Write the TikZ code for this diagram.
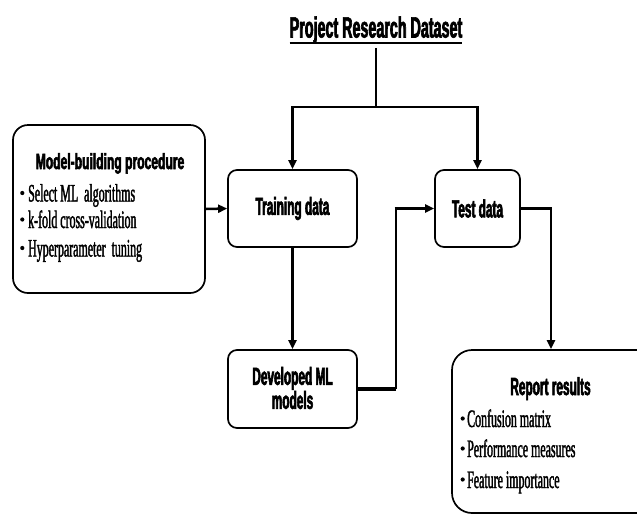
\documentclass[tikz,border=0pt]{standalone}
\usepackage{fontspec}
\setmainfont{Liberation Serif}
\newfontfamily\hfont[FakeStretch=0.48,FakeBold=2.4]{Liberation Sans}
\newfontfamily\mfont[FakeStretch=0.55,FakeBold=2.4]{Liberation Sans}
\newfontfamily\tfont[FakeStretch=0.49,FakeBold=2.2]{Liberation Sans}
\newfontfamily\sfont[FakeStretch=0.475,FakeBold=1.4]{Liberation Serif}
\usetikzlibrary{arrows.meta}
\tikzset{
  box/.style={draw, line width=1.7pt, rounded corners=9pt, inner sep=0pt},
  lbl/.style={font=\hfont\bfseries\fontsize{24.7}{21.5}\selectfont, align=center, inner sep=0pt},
  itm/.style={font=\sfont\fontsize{25.1}{24}\selectfont, anchor=base west, inner sep=0pt},
  bul/.style={circle, fill=black, inner sep=0pt, minimum size=4.2pt},
  conn/.style={line width=2.5pt, -{Triangle[length=9pt,width=8pt]}},
  thickconn/.style={line width=3.6pt},
}
\begin{document}
\begin{tikzpicture}[x=1pt,y=-1pt]
\useasboundingbox (0,0) rectangle (637,515);
% title
\node[lbl, font=\tfont\bfseries\fontsize{29.2}{26}\selectfont, anchor=base] (title) at (376,37.5) {Project Research Dataset};
\draw[line width=1.8pt] ([yshift=-5.5pt]title.base west) -- ([yshift=-5.5pt]title.base east);
% boxes
\node[box, rounded corners=15pt, minimum width=192pt, minimum height=168pt] (model) at (109,209) {};
\node[box, minimum width=129pt, minimum height=77pt] (train) at (292.5,208.5) {};
\node[lbl] (traint) at (train.center) {Training data};
\node[box, minimum width=85pt, minimum height=77pt] (test) at (477.5,208.5) {};
\node[lbl] (testt) at (test.center) {Test data};
\node[box, minimum width=129pt, minimum height=78pt] (dev) at (292.5,389) {};
\node[lbl] (devt) at ([yshift=1pt]dev.center) {Developed ML\\models};
\node[box, rounded corners=20pt, minimum width=218pt, minimum height=163pt] (rep) at (561,431.5) {};
% model text
\node[lbl, font=\mfont\bfseries\fontsize{22}{21}\selectfont, anchor=base] (mtitle) at (110,169) {Model-building procedure};
\node[bul] (mb1) at (22.3,193) {};
\node[itm] (m1) at (28,201.5) {Select ML~~algorithms};
\node[bul] (mb2) at (22.3,219.5) {};
\node[itm] (m2) at (28,228) {k-fold cross-validation};
\node[bul] (mb3) at (22.3,248) {};
\node[itm] (m3) at (28,256.5) {Hyperparameter~~tuning};
% report text
\node[lbl, anchor=base] (rtitle) at (550.5,395) {Report results};
\node[bul] (rb1) at (462.7,418.5) {};
\node[itm] (r1) at (467,427) {Confusion matrix};
\node[bul] (rb2) at (462.7,448.5) {};
\node[itm] (r2) at (467,457) {Performance measures};
\node[bul] (rb3) at (462.7,479.5) {};
\node[itm] (r3) at (467,488) {Feature importance};
% connectors
\coordinate (split) at (376,107);
\draw[line width=2.5pt] ([yshift=-4pt]title.south) -- (split);
\draw[conn] (split) -| (train.north);
\draw[conn] (split) -| (test.north);
\draw[conn] (model.east) -- (train.west);
\draw[conn] (train.south) -- (dev.north);
\coordinate (d1) at (396,389);
\draw[thickconn] (dev.east) -- (d1);
\draw[line width=2.8pt] (d1) -- (d1 |- test.west);
\draw[thickconn, -{Triangle[length=9pt,width=8pt]}] ([xshift=-1.4pt]d1 |- test.west) -- (test.west);
\coordinate (t1) at (551,208.5);
\draw[thickconn] (test.east) -- ([xshift=1.25pt]t1);
\draw[conn] (t1) -- (t1 |- rep.north);
\end{tikzpicture}
\end{document}
